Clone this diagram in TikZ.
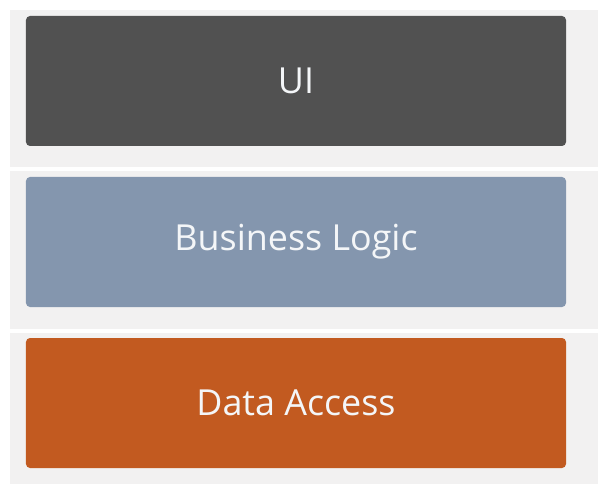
\documentclass[tikz,border=0pt]{standalone}
\usepackage{fontspec}
\setmainfont{Open Sans}
\definecolor{panel}{HTML}{F2F1F1}
\definecolor{uigray}{HTML}{515151}
\definecolor{logicblue}{HTML}{8496AE}
\definecolor{dataorange}{HTML}{C25A20}
\definecolor{labelwhite}{HTML}{F4F6F8}

\begin{document}
\begin{tikzpicture}[x=1bp, y=-1bp,
    layer/.style={rounded corners=4bp, minimum width=540bp, minimum height=130bp,
                  inner sep=0pt, text=labelwhite, font=\fontsize{36}{40}\selectfont}]
            \useasboundingbox (0,0) rectangle (598,484);
            \fill[white] (0,0) rectangle (598,484);
            \fill[panel] (10,10) rectangle (598,167);
            \fill[panel] (10,171) rectangle (598,329);
            \fill[panel] (10,333) rectangle (598,484);

            \node[layer, fill=uigray] (UI) at (296,81) {UI};
            \node[layer, fill=logicblue] (BL) at (296,242) {Business Logic};
            \node[layer, fill=dataorange] (DA) at (296,403) {Data Access};
        \end{tikzpicture}
\end{document}
